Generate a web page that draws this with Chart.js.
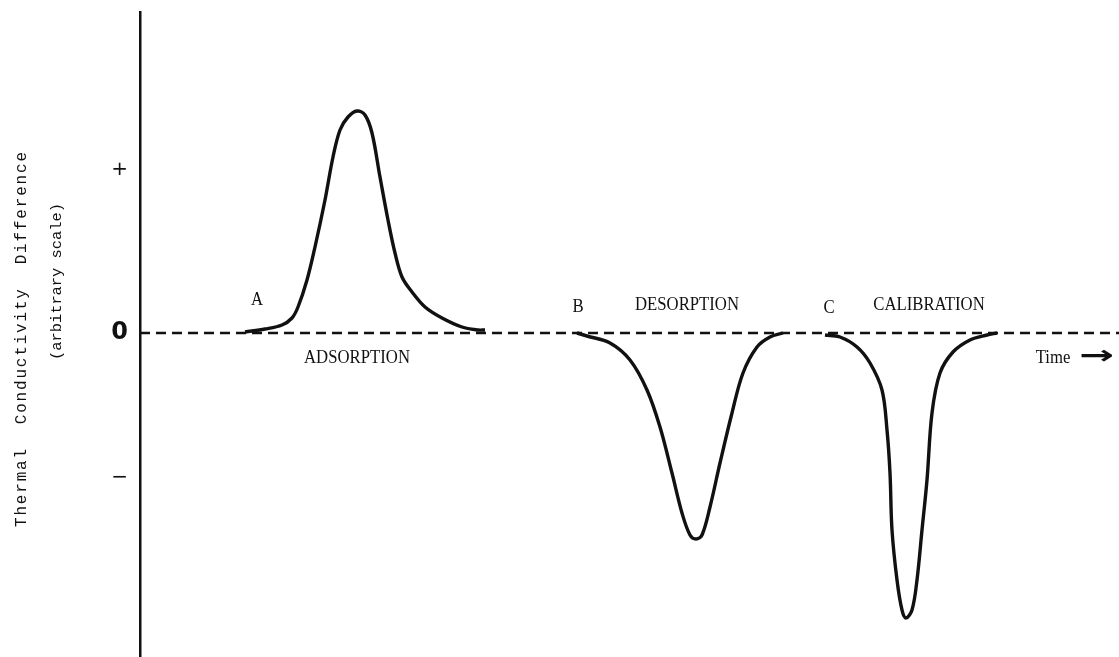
<!DOCTYPE html>
<html lang="en">
<head>
<meta charset="UTF-8" />
<title>Thermal Conductivity Difference</title>
<script src="https://cdn.jsdelivr.net/npm/chart.js"></script>
<style>
  html, body { margin: 0; padding: 0; background: #fff; }
  canvas { display: block; }
</style>
</head>
<body>
<canvas id="chart" width="1119" height="657"></canvas>
<script>
// time (arbitrary units) and signal (arbitrary units)
const adsorptionTime = [105, 125, 142, 152, 158, 167, 175, 185, 193, 200, 208, 217, 225, 232, 240, 248, 255, 262, 272, 285, 302, 322, 338, 345];
const adsorptionSignal = [1, 4, 8, 15, 26, 53, 86, 133, 176, 203, 216, 222, 218, 200, 156, 113, 80, 56, 41, 26, 15, 6, 3, 3];

const desorptionTime = [437, 447, 470, 490, 507, 520, 532, 542, 550, 556, 562, 570, 580, 592, 603, 617, 630, 643];
const desorptionSignal = [0, -3, -10, -27, -57, -94, -140, -180, -202, -206, -202, -174, -130, -80, -40, -14, -4, 0];

const calibrationTime = [685, 700, 717, 730, 742, 747, 750, 752, 757, 762, 766, 772, 777, 782, 787, 792, 800, 813, 830, 847, 857];
const calibrationSignal = [-2, -4, -14, -30, -57, -97, -140, -197, -247, -277, -285, -277, -247, -197, -147, -80, -40, -19, -7, -2, 0];

const baselineTime = [0, 979];
const baselineSignal = [0, 0];

const tickValues = [163, 0, -145];
const tickLabels = ['+', '0', '\u2212'];

// peak labels: text, time, signal
const noteTexts = ['A', 'ADSORPTION', 'B', 'DESORPTION', 'C', 'CALIBRATION', 'Time'];
const noteTime = [117, 217, 438, 547, 689, 789, 913];
const noteSignal = [33, -25, 26, 28, 25, 28, -25];

const toPoints = (xs, ys) => xs.map((x, i) => ({ x: x, y: ys[i] }));

// draw text squeezed horizontally, like the narrow typewriter face
function squeezed(ctx, text, x, y, sx) {
  ctx.save();
  ctx.translate(x, y);
  ctx.scale(sx, 1);
  ctx.fillText(text, 0, 0);
  ctx.restore();
}

// spread text out to a given width (typewriter spacing)
function spread(ctx, text, x, y, width) {
  ctx.letterSpacing = '0px';
  const w = ctx.measureText(text).width;
  ctx.letterSpacing = ((width - w) / (text.length - 1)) + 'px';
  ctx.fillText(text, x, y);
  ctx.letterSpacing = '0px';
}

const notesPlugin = {
  id: 'notes',
  afterDraw(chart) {
    const { ctx, scales: { x, y } } = chart;
    ctx.save();
    ctx.fillStyle = '#111';
    ctx.textAlign = 'center';
    ctx.textBaseline = 'middle';
    ctx.font = '19px "Liberation Serif"';
    noteTexts.forEach((t, i) => {
      squeezed(ctx, t, x.getPixelForValue(noteTime[i]), y.getPixelForValue(noteSignal[i]), 0.88);
    });

    // arrow after "Time"
    ctx.font = 'bold 26px "DejaVu Sans"';
    squeezed(ctx, '\u2192', x.getPixelForValue(957), y.getPixelForValue(-24), 1.6);

    // rotated axis title, two lines
    ctx.textAlign = 'left';
    ctx.font = '16px "Liberation Mono"';
    ctx.save();
    ctx.translate(22, 527);
    ctx.rotate(-Math.PI / 2);
    spread(ctx, 'Thermal  Conductivity  Difference', 0, 0, 375);
    ctx.restore();
    ctx.font = '15.5px "Liberation Mono"';
    ctx.save();
    ctx.translate(57, 360);
    ctx.rotate(-Math.PI / 2);
    spread(ctx, '(arbitrary scale)', 0, 0, 157);
    ctx.restore();
    ctx.restore();
  }
};

const traceStyle = {
  showLine: true,
  borderColor: '#111',
  borderWidth: 3.4,
  tension: 0.35,
  pointRadius: 0
};

new Chart(document.getElementById('chart'), {
  type: 'scatter',
  data: {
    datasets: [
      {
        label: 'baseline',
        data: toPoints(baselineTime, baselineSignal),
        showLine: true,
        borderColor: '#111',
        borderWidth: 2.5,
        borderDash: [10, 6],
        pointRadius: 0
      },
      { label: 'adsorption', data: toPoints(adsorptionTime, adsorptionSignal), ...traceStyle },
      { label: 'desorption', data: toPoints(desorptionTime, desorptionSignal), ...traceStyle },
      { label: 'calibration', data: toPoints(calibrationTime, calibrationSignal), ...traceStyle }
    ]
  },
  options: {
    responsive: false,
    animation: false,
    layout: { padding: { top: 12, right: 0, bottom: 0, left: 0 } },
    plugins: {
      legend: { display: false },
      tooltip: { enabled: false }
    },
    scales: {
      x: {
        type: 'linear',
        min: 0,
        max: 979,
        display: false
      },
      y: {
        type: 'linear',
        min: -324,
        max: 321,
        grid: { display: false, drawTicks: false },
        border: { display: true, color: '#111', width: 2.5 },
        afterBuildTicks: scale => {
          scale.ticks = tickValues.map(v => ({ value: v }));
        },
        afterFit: scale => {
          scale.width = 140;
          scale.paddingTop = 0;
          scale.paddingBottom = 0;
        },
        ticks: {
          padding: 12,
          color: '#111',
          font: ctx => ({
            family: '"DejaVu Sans"',
            size: ctx.tick && ctx.tick.value === 0 ? 24 : 20,
            weight: ctx.tick && ctx.tick.value === 0 ? 'bold' : 'normal'
          }),
          callback: value => tickLabels[tickValues.indexOf(value)]
        }
      }
    }
  },
  plugins: [notesPlugin]
});
</script>
</body>
</html>
